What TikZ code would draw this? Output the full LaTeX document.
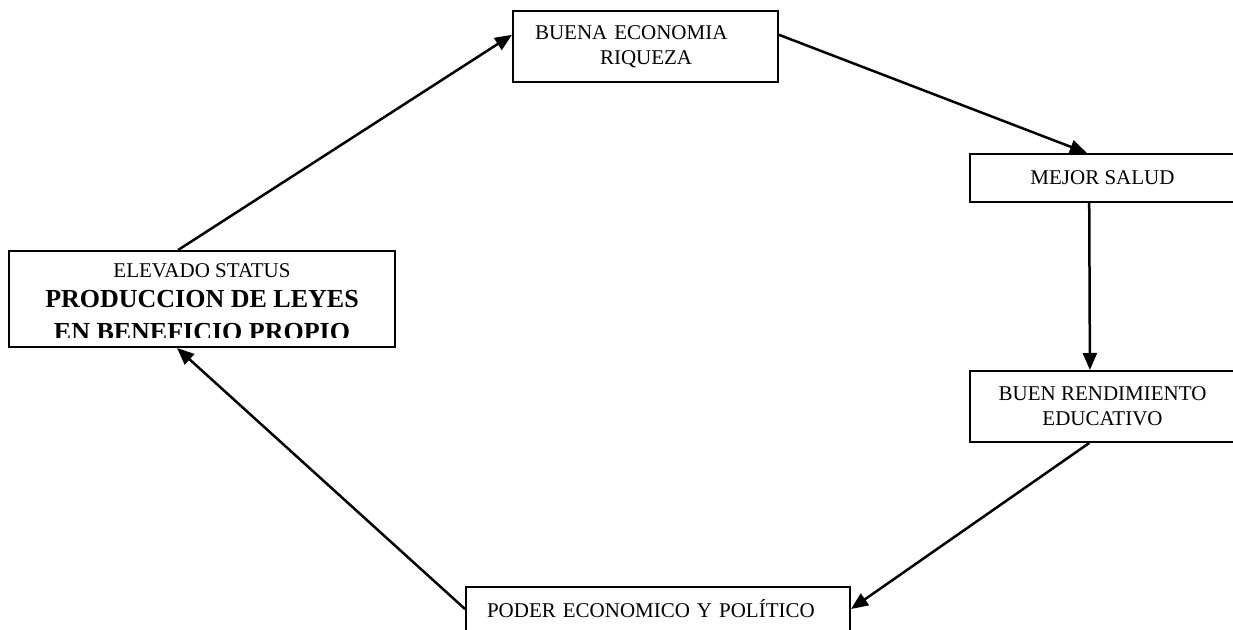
\documentclass[tikz,border=0pt]{standalone}
\usepackage{fontspec}
\setmainfont{Liberation Serif}
\usetikzlibrary{arrows.meta}

\tikzset{
	box/.style={draw, line width=2pt, inner sep=0pt, font=\fontsize{21}{25}\selectfont},
	flow/.style={->, line width=2.5pt}
}

\begin{document}
\begin{tikzpicture}[x=1pt, y=-1pt, >={Triangle[length=17pt,width=14pt]}]
			\clip (0,0) rectangle (1233,629);
			% boxes
			\node[box, minimum width=265pt, minimum height=71pt, text width=221pt, align=left]
				(riqueza) at (645.5,46.5) {BUENA ECONOMIA\\\hspace*{65pt}RIQUEZA};
			\node[box, minimum width=265pt, minimum height=48pt] (salud) at (1102.5,178) {MEJOR SALUD};
			\node[box, minimum width=265pt, minimum height=71pt, align=center]
				(educ) at (1102.5,406.5) {BUEN RENDIMIENTO\\EDUCATIVO};
			\node[box, minimum width=384pt, minimum height=44pt, text width=342pt, align=left]
				(poder) at (658,609) {PODER ECONOMICO Y POLÍTICO};
			\node[box, minimum width=386pt, minimum height=96pt] (status) at (202,299) {};
			% status text, cut off at the bottom
			\begin{scope}
				\clip (10,252) rectangle (394,337);
				\node[anchor=base, inner sep=0pt, font=\fontsize{21}{25}\selectfont] (st1) at (202,277) {ELEVADO STATUS};
				\node[anchor=base, inner sep=0pt, font=\fontsize{26}{30}\selectfont\bfseries] (st2) at (202,307) {PRODUCCION DE LEYES};
				\node[anchor=base, inner sep=0pt, font=\fontsize{26}{30}\selectfont\bfseries] (st3) at (202,340) {EN BENEFICIO PROPIO};
			\end{scope}
			% cycle
			\draw[flow] (status.116.6) -- (riqueza.175.9);
			\draw[flow] (riqueza.5.8) -- (salud.122.9);
			\draw[flow] (salud.242.5) -- (educ.109.4);
			\draw[flow] (educ.250.6) -- (poder.east);
			\draw[flow] (poder.west) -- (status.243.4);
		\end{tikzpicture}
\end{document}
